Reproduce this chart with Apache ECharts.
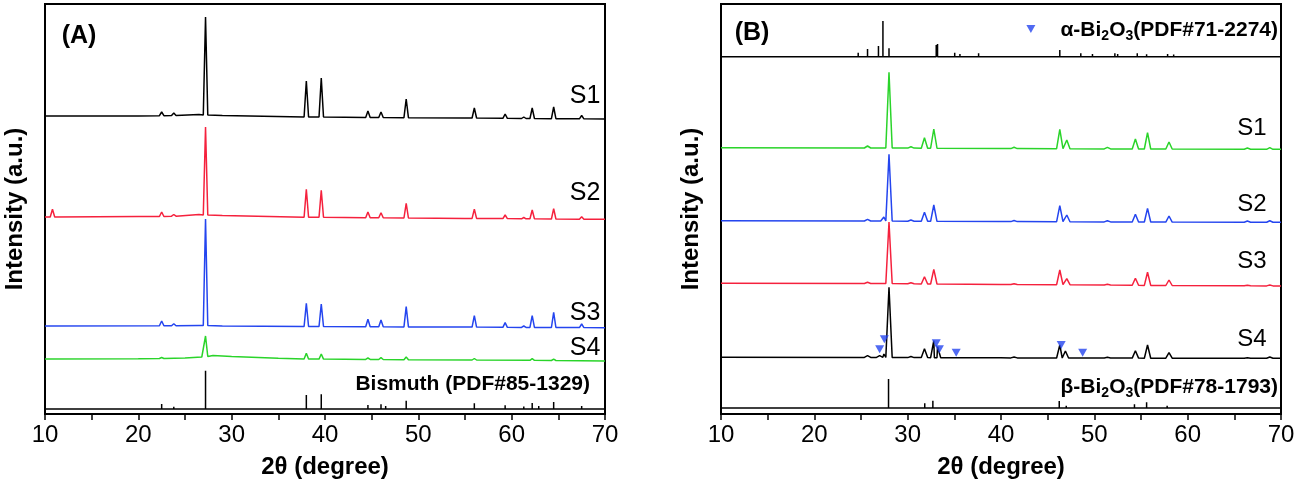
<!DOCTYPE html>
<html><head><meta charset="utf-8">
<script src="https://cdn.jsdelivr.net/npm/echarts@6/dist/echarts.min.js"></script>
<style>html,body{margin:0;padding:0;background:#fff}#c{width:1299px;height:488px}</style>
</head><body><div id="c"></div>
<script>
// ---- axis ----
var xMin = 10, xMax = 70, xStep = 5;
var xTickLabels = ['10', '20', '30', '40', '50', '60', '70'];
var sampleNames = ['S1', 'S2', 'S3', 'S4'];

// ---- Panel A (Bismuth) : intensity in arbitrary units (stacked patterns) ----
// background knots [2θ, intensity]
var A_S1_bg = [[10,298],[20,298],[26.5,299.5],[29,298.5],[40,297],[55,296],[70,295]];
var A_S2_bg = [[10,197],[20,197.5],[26.5,199.5],[29,198.5],[40,196.5],[55,195.5],[70,194.7]];
var A_S3_bg = [[10,88],[26.5,88.5],[29,88],[40,87.5],[70,86.3]];
var A_S4_bg = [[10,55],[20,55.3],[25,56],[26.8,57],[28,58.5],[30,57.5],[35,55.8],[45,54.5],[70,53]];
// peaks [2θ, local background, top]
var A_S1_peaks = [[22.5,298.3,302],[23.8,298.5,301],[27.2,299,397],[38.0,297,333],[39.6,297,336],[44.6,296.6,303],[46.0,296.5,302],[48.7,296.3,315],[56.0,296,306],[59.3,295.7,300],[61.3,295.5,297],[62.2,295.5,306],[64.5,295.3,307],[67.5,295.2,298.5]];
var A_S2_peaks = [[10.8,197,204.7],[22.5,197.5,202],[23.8,197.8,199.5],[27.2,199,287],[38.0,196.8,224.7],[39.6,196.7,223.7],[44.6,196.3,202],[46.0,196.2,201.3],[48.7,196,210.7],[56.0,195.6,204.7],[59.3,195.4,199],[61.3,195.2,196.5],[62.2,195.2,204],[64.5,195,205.3],[67.5,194.8,197.3]];
var A_S3_peaks = [[22.5,88.2,93],[23.8,88.3,90.3],[27.2,88.5,195],[38.0,87.5,110.7],[39.6,87.5,110],[44.6,87.3,94.7],[46.0,87.2,94],[48.7,87.1,107.3],[56.0,86.9,98.3],[59.3,86.7,91.3],[61.3,86.6,88],[62.2,86.6,98.3],[64.5,86.5,101.7],[67.5,86.4,90]];
var A_S4_peaks = [[22.5,55.5,56.5],[27.2,57.5,78],[38.0,55,60.7],[39.6,54.9,60],[44.6,54.6,56],[46.0,54.5,56.3],[48.7,54.3,57],[56.0,54,55.5],[62.2,53.7,55.3],[64.5,53.5,54.8]];
// reference sticks Bismuth PDF#85-1329 [2θ, top]
var A_ref_base = 5;
var A_ref = [[22.5,10],[23.8,7.3],[27.2,43.3],[38.0,19],[39.6,19.7],[44.6,9],[46.0,9.7],[46.5,8],[48.7,13.3],[56.0,10.7],[59.3,8.7],[61.3,7.5],[62.2,11],[62.9,8],[64.5,12],[67.5,8]];

// ---- Panel B (Bi2O3) ----
var B_S1_bg = [[10,266.3],[40,265.5],[70,264.7]];
var B_S2_bg = [[10,193.3],[40,192.5],[70,191.7]];
var B_S3_bg = [[10,130.7],[40,129.5],[70,128]];
var B_S4_bg = [[10,56.7],[40,56.2],[70,55.7]];
var B_S1_peaks = [[25.7,266,268],[28.0,266,341.7],[30.35,265.9,267.3],[31.8,265.8,276.3],[32.8,265.8,285],[41.4,265.4,266.7],[46.3,265.3,284.7],[47.05,265.3,274],[51.4,265.1,266.7],[54.4,265,275],[55.7,265,281.3],[58.0,265,272],[66.4,264.8,266],[68.8,264.7,266.3]];
var B_S2_peaks = [[25.7,193,194.7],[27.45,193,197],[28.0,193,259.7],[30.35,192.8,194],[31.8,192.7,201.7],[32.8,192.7,209],[41.4,192.4,193.5],[46.3,192.3,208.3],[47.05,192.3,199],[51.4,192.1,193.3],[54.4,192,199.7],[55.7,192,205.7],[58.0,191.9,198],[66.4,191.8,193],[68.8,191.7,193.2]];
var B_S3_peaks = [[25.7,130.5,131.7],[28.0,130.5,192],[30.35,130.2,131.3],[31.8,130,137.3],[32.8,130,144.7],[41.4,129.5,130.3],[46.3,129.3,144],[47.05,129.3,135.3],[51.4,129,129.7],[54.4,128.8,135.7],[55.7,128.6,141.7],[58.0,128.5,134],[66.4,128.2,128.8],[68.8,128.1,129]];
var B_S4_peaks = [[25.7,56.6,58.3],[27.0,56.6,58.3],[27.45,56.6,60],[28.0,56.6,126.7],[30.35,56.4,57.5],[31.8,56.4,65.3],[32.8,56.3,73.3],[33.2,56.3,67.3],[41.4,56.1,57],[46.3,56,69],[46.9,56,63],[51.4,55.9,56.7],[54.4,55.9,63.3],[55.7,55.8,69],[58.0,55.8,61.3],[66.4,55.7,56.3],[68.8,55.7,57]];
// α-Bi2O3 markers on S4 [2θ, intensity]
var B_alphaMarks = [[27.0,64.7],[27.5,74.7],[33.06,70.7],[33.4,64.7],[35.2,61.3],[46.45,69],[48.75,61.3]];
var B_legendMark = [[43.2,385]];
// α-Bi2O3 PDF#71-2274 sticks
var B_alpha_base = 357.3;
var B_alpha = [[16.8,358.7],[19.6,358.7],[21.7,358.7],[24.7,361.3],[25.7,365],[26.87,368],[27.35,393],[28.0,365.7],[30.3,358.5],[31.0,358.8],[33.06,369],[33.2,370],[34.1,358.8],[35.04,361.3],[35.6,360],[36.8,359],[37.6,360.7],[40.06,359],[42.4,358.6],[43.3,358.8],[45.1,358.5],[46.3,364],[47.8,358.8],[48.55,360.7],[49.8,360],[50.6,359],[51.6,359.2],[52.2,360.7],[52.5,360],[53.4,359],[54.6,360.7],[55.6,359.7],[56.3,359],[57.85,360],[58.5,359.5],[60.3,359],[61.9,358.7],[63.4,358.6],[65.1,358.7],[67.35,358.7],[68.6,358.6]];
// β-Bi2O3 PDF#78-1793 sticks
var B_beta_base = 6;
var B_beta = [[25.8,8],[27.95,35],[30.26,8],[31.83,10.7],[32.7,13.3],[46.24,13],[46.99,8.3],[54.3,9.7],[55.6,11.7],[57.8,8.3],[66.4,7.3],[68.6,7.3]];

// ---- helpers (build drawable polylines from read values) ----
function curve(bg, peaks, w) {
  var pts = [];
  bg.forEach(function (p) { if (!peaks.some(function (k) { return Math.abs(p[0] - k[0]) <= w; })) pts.push([p[0], p[1]]); });
  peaks.forEach(function (k) { pts.push([k[0] - w, k[1]], [k[0], k[2]], [k[0] + w, k[1]]); });
  pts.sort(function (a, b) { return a[0] - b[0]; });
  return pts;
}
function sticks(base, list) {
  var pts = [[xMin, base]];
  list.forEach(function (s) { pts.push([s[0], base], [s[0], s[1]], [s[0], base]); });
  pts.push([xMax, base]);
  return pts;
}

var FONT = '"Liberation Sans", Arial, sans-serif';
var RED = '#f5213d', BLUE = '#2445ef', GREEN = '#2ad42a', BLACK = '#000';

function line(data, color, idx, width) {
  return { type: 'line', data: data, xAxisIndex: idx, yAxisIndex: idx, showSymbol: false,
    lineStyle: { color: color, width: width || 1.5 }, silent: true, animation: false, z: 3 };
}
function tri(data, idx) {
  return { type: 'scatter', data: data, xAxisIndex: idx, yAxisIndex: idx, symbol: 'triangle',
    symbolRotate: 180, symbolSize: [9, 8], itemStyle: { color: BLUE }, silent: true, animation: false, z: 5 };
}

function gridAt(left) {
  return { left: left, top: 4, width: 560, height: 410, show: true, borderColor: '#000', borderWidth: 2, containLabel: false };
}
function xAxisAt(idx) {
  return { type: 'value', gridIndex: idx, min: xMin, max: xMax, interval: xStep,
    name: '2θ (degree)', nameLocation: 'middle', nameGap: 41,
    nameTextStyle: { fontFamily: FONT, fontSize: 24, fontWeight: 'bold', color: '#000' },
    axisLine: { show: true, lineStyle: { color: '#000', width: 2 } },
    axisTick: { show: true, inside: false, length: 6, lineStyle: { color: '#000', width: 1.5 } },
    axisLabel: { fontFamily: FONT, fontSize: 24, color: '#000', margin: 9,
      formatter: function (v) { var s = String(v); return xTickLabels.indexOf(s) >= 0 ? s : ''; } },
    splitLine: { show: false } };
}
function yAxisAt(idx) {
  return { type: 'value', gridIndex: idx, min: 0, max: 410,
    name: 'Intensity (a.u.)', nameLocation: 'middle', nameGap: 18, nameRotate: 90,
    nameTextStyle: { fontFamily: FONT, fontSize: 24, fontWeight: 'bold', color: '#000' },
    axisLine: { show: false }, axisTick: { show: false }, axisLabel: { show: false }, splitLine: { show: false } };
}

function txt(text, x, y, size, bold, align) {
  return { type: 'text', z: 10, style: { text: text, x: x, y: y, fill: '#000', align: align || 'center', verticalAlign: 'middle',
    font: (bold ? 'bold ' : '') + size + 'px ' + FONT } };
}
function richTxt(parts, x, y) {
  return { type: 'text', z: 10, style: { text: parts, x: x, y: y, align: 'right', verticalAlign: 'middle',
    rich: {
      n: { fontFamily: FONT, fontSize: 21, fontWeight: 'bold', fill: '#000', lineHeight: 24 },
      s: { fontFamily: FONT, fontSize: 14, fontWeight: 'bold', fill: '#000', lineHeight: 24, padding: [12, 0, 0, 0] }
    } } };
}

var chart = echarts.init(document.getElementById('c'), null, { renderer: 'canvas' });
chart.setOption({
  backgroundColor: '#fff',
  animation: false,
  grid: [gridAt(45), gridAt(721)],
  xAxis: [xAxisAt(0), xAxisAt(1)],
  yAxis: [yAxisAt(0), yAxisAt(1)],
  series: [
    line(curve(A_S1_bg, A_S1_peaks, 0.24), BLACK, 0),
    line(curve(A_S2_bg, A_S2_peaks, 0.24), RED, 0),
    line(curve(A_S3_bg, A_S3_peaks, 0.24), BLUE, 0),
    line(curve(A_S4_bg, A_S4_peaks, 0.24), GREEN, 0),
    line(sticks(A_ref_base, A_ref), BLACK, 0, 1.5),
    line(curve(B_S1_bg, B_S1_peaks, 0.34), GREEN, 1),
    line(curve(B_S2_bg, B_S2_peaks, 0.34), BLUE, 1),
    line(curve(B_S3_bg, B_S3_peaks, 0.34), RED, 1),
    line(curve(B_S4_bg, B_S4_peaks, 0.34), BLACK, 1),
    line(sticks(B_alpha_base, B_alpha), BLACK, 1, 1.5),
    line(sticks(B_beta_base, B_beta), BLACK, 1, 1.5),
    tri(B_alphaMarks, 1),
    tri(B_legendMark, 1)
  ],
  graphic: [
    txt('(A)', 79, 36, 25, true),
    txt('(B)', 752, 33, 25, true),
    txt(sampleNames[0], 585, 96, 25, false),
    txt(sampleNames[1], 585, 193, 25, false),
    txt(sampleNames[2], 585, 313, 25, false),
    txt(sampleNames[3], 585, 348, 25, false),
    txt('Bismuth (PDF#85-1329)', 590, 384, 21, true, 'right'),
    txt(sampleNames[0], 1252, 128, 24, false),
    txt(sampleNames[1], 1252, 204, 24, false),
    txt(sampleNames[2], 1252, 261, 24, false),
    txt(sampleNames[3], 1252, 339, 24, false),
    richTxt('{n|α-Bi}{s|2}{n|O}{s|3}{n|(PDF#71-2274)}', 1278, 30),
    richTxt('{n|β-Bi}{s|2}{n|O}{s|3}{n|(PDF#78-1793)}', 1278, 387)
  ]
});
</script></body></html>
